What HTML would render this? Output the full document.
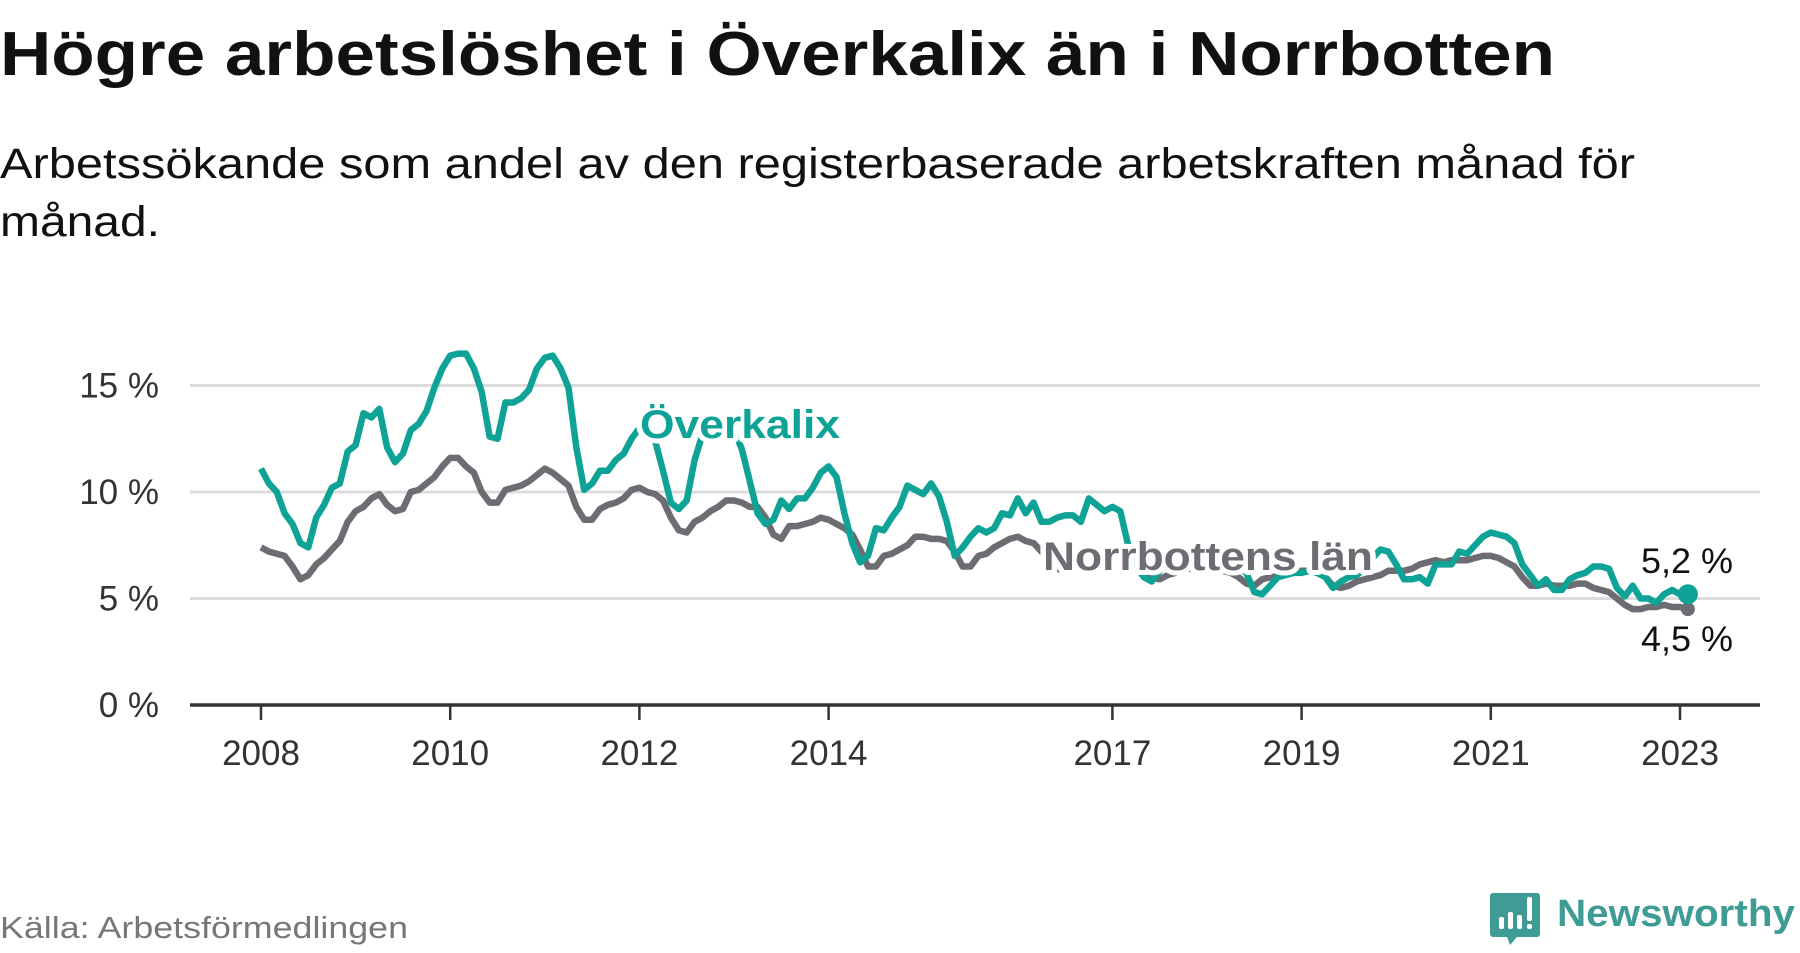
<!DOCTYPE html>
<html><head><meta charset="utf-8">
<style>
html,body{margin:0;padding:0;background:#fff;}
body{width:1800px;height:948px;overflow:hidden;font-family:"Liberation Sans",sans-serif;}
</style></head>
<body>
<svg id="chart" width="1800" height="948" viewBox="0 0 1800 948" xmlns="http://www.w3.org/2000/svg">
<text x="0" y="75" font-size="62" font-weight="bold" fill="#111" textLength="1555" lengthAdjust="spacingAndGlyphs">Högre arbetslöshet i Överkalix än i Norrbotten</text>
<text x="0" y="178" font-size="43" fill="#111" textLength="1635" lengthAdjust="spacingAndGlyphs">Arbetssökande som andel av den registerbaserade arbetskraften månad för</text>
<text x="0" y="236" font-size="43" fill="#111" textLength="160" lengthAdjust="spacingAndGlyphs">månad.</text>
<g id="grid"></g>
<g id="yticks"></g>
<g id="xaxis"></g>
<g id="series"></g>
<g id="labels"></g>
<text x="0" y="938" font-size="31" fill="#777" textLength="408" lengthAdjust="spacingAndGlyphs">Källa: Arbetsförmedlingen</text>
<g>
<path d="M1493 893 h44 a3 3 0 0 1 3 3 v38 a3 3 0 0 1 -3 3 h-20 l-7 8 l-3 -8 h-14 a3 3 0 0 1 -3 -3 v-38 a3 3 0 0 1 3 -3z" fill="#3f9c95"/>
<rect x="1499" y="917" width="5" height="12" rx="2" fill="#fff"/>
<rect x="1508" y="912" width="5" height="17" rx="2" fill="#fff"/>
<rect x="1517" y="915" width="5" height="14" rx="2" fill="#fff"/>
<rect x="1527" y="897" width="5" height="24" rx="2" fill="#fff"/>
<rect x="1527" y="924" width="5" height="5" rx="2" fill="#fff"/>
<text x="1557" y="926" font-size="38" font-weight="bold" fill="#3f9c95" textLength="238" lengthAdjust="spacingAndGlyphs">Newsworthy</text>
</g>
</svg>
<script>
const startYear = 2008;
const overkalix = [
11.1,10.4,10.0,9.0,8.5,7.6,7.4,8.8,9.4,10.2,10.4,11.9,
12.2,13.7,13.5,13.9,12.1,11.4,11.8,12.9,13.2,13.8,14.9,15.8,
16.4,16.5,16.5,15.8,14.7,12.6,12.5,14.2,14.2,14.4,14.8,15.8,
16.3,16.4,15.8,14.9,12.1,10.1,10.4,11.0,11.0,11.5,11.8,12.5,
13.0,13.0,12.4,11.0,9.5,9.2,9.6,11.5,12.7,13.0,13.2,13.0,
12.9,12.0,10.5,9.0,8.5,8.7,9.6,9.2,9.7,9.7,10.2,10.9,
11.2,10.7,9.0,7.6,6.7,7.0,8.3,8.2,8.8,9.3,10.3,10.1,
9.9,10.4,9.8,8.6,7.0,7.4,7.9,8.3,8.1,8.3,9.0,8.9,
9.7,9.0,9.5,8.6,8.6,8.8,8.9,8.9,8.6,9.7,9.4,9.1,
9.3,9.1,7.5,6.5,6.0,5.8,6.3,6.9,6.8,6.8,6.5,6.5,
6.6,6.5,6.5,6.8,6.5,6.2,5.3,5.2,5.6,6.0,6.1,6.2,
6.2,6.3,6.2,6.0,5.5,5.8,6.0,6.1,6.4,6.9,7.3,7.2,
6.6,5.9,5.9,6.0,5.7,6.6,6.6,6.6,7.2,7.1,7.5,7.9,
8.1,8.0,7.9,7.6,6.6,6.1,5.6,5.9,5.4,5.4,5.9,6.1,
6.2,6.5,6.5,6.4,5.5,5.1,5.6,5.0,5.0,4.8,5.2,5.4,
5.2,5.2];
const norrbotten = [
7.4,7.2,7.1,7.0,6.5,5.9,6.1,6.6,6.9,7.3,7.7,8.6,
9.1,9.3,9.7,9.9,9.4,9.1,9.2,10.0,10.1,10.4,10.7,11.2,
11.6,11.6,11.2,10.9,10.0,9.5,9.5,10.1,10.2,10.3,10.5,10.8,
11.1,10.9,10.6,10.3,9.3,8.7,8.7,9.2,9.4,9.5,9.7,10.1,
10.2,10.0,9.9,9.6,8.8,8.2,8.1,8.6,8.8,9.1,9.3,9.6,
9.6,9.5,9.3,9.3,8.8,8.0,7.8,8.4,8.4,8.5,8.6,8.8,
8.7,8.5,8.3,8.0,7.3,6.5,6.5,7.0,7.1,7.3,7.5,7.9,
7.9,7.8,7.8,7.7,7.2,6.5,6.5,7.0,7.1,7.4,7.6,7.8,
7.9,7.7,7.6,7.2,6.8,6.4,6.3,6.6,6.8,6.9,6.9,7.0,
7.0,6.9,6.9,6.8,6.4,6.0,5.9,6.1,6.2,6.4,6.4,6.5,
6.5,6.4,6.3,6.2,6.0,5.7,5.6,5.9,6.0,6.1,6.2,6.3,
6.3,6.3,6.2,6.0,5.6,5.5,5.6,5.8,5.9,6.0,6.1,6.3,
6.3,6.3,6.4,6.6,6.7,6.8,6.7,6.8,6.8,6.8,6.9,7.0,
7.0,6.9,6.7,6.5,6.0,5.6,5.6,5.7,5.6,5.6,5.6,5.7,
5.7,5.5,5.4,5.3,5.0,4.7,4.5,4.5,4.6,4.6,4.7,4.6,
4.6,4.5];
const yTicks = [0,5,10,15];
const yTickLabels = ["0 %","5 %","10 %","15 %"];
const xTicks = [2008,2010,2012,2014,2017,2019,2021,2023];

const NS="http://www.w3.org/2000/svg";
const X0=190, X1=1760;
function x(t){return 261 + (t-2008)*94.6;}
function xm(i){return x(startYear + i/12);}
function y(v){return 705 - v*21.3;}
function el(tag,attrs,parent){const e=document.createElementNS(NS,tag);for(const k in attrs)e.setAttribute(k,attrs[k]);parent.appendChild(e);return e;}
const grid=document.getElementById('grid'), yt=document.getElementById('yticks'), xa=document.getElementById('xaxis'), se=document.getElementById('series'), lb=document.getElementById('labels');
yTicks.forEach((v,i)=>{
  if(v>0){const l=el('line',{x1:X0,x2:X1,y1:y(v),y2:y(v),stroke:'#dcdcdc','stroke-width':3},grid);
  
  }
  const t=el('text',{x:159,y:y(v)+12,'font-size':35,fill:'#333','text-anchor':'end'},yt);
  
  
  t.textContent=yTickLabels[i];
});
const ax=el('line',{x1:X0,x2:X1,y1:705,y2:705,stroke:'#333','stroke-width':3.5},xa);


xTicks.forEach(t=>{
  const tk=el('line',{x1:x(t),x2:x(t),y1:705,y2:720,stroke:'#333','stroke-width':2.5},xa);
  
  
  const tl=el('text',{x:x(t),y:765,'font-size':35,fill:'#333','text-anchor':'middle'},xa);
  
  
  tl.textContent=t;
});
function path(arr){return arr.map((v,i)=>(i?'L':'M')+xm(i).toFixed(1)+' '+y(v).toFixed(1)).join(' ');}
const pn=el('path',{d:path(norrbotten),fill:'none',stroke:'#6d6c72','stroke-width':6.5,'stroke-linejoin':'round'},se);


const po=el('path',{d:path(overkalix),fill:'none',stroke:'#0ea396','stroke-width':6.5,'stroke-linejoin':'round'},se);


const nl=norrbotten.length-1, ol=overkalix.length-1;
const dn=el('circle',{cx:xm(nl),cy:y(norrbotten[nl]),r:7,fill:'#6d6c72'},se);


const dot=el('circle',{cx:xm(ol),cy:y(overkalix[ol]),r:10,fill:'#0ea396'},se);


function label(txt,xx,yy,size,color,bold,name,len){
  const t=el('text',{x:xx,y:yy,'font-size':size,fill:color,'font-weight':bold?'bold':'normal',stroke:'#fff','stroke-width':10,'paint-order':'stroke','stroke-linejoin':'round'},lb);
  if(len){t.setAttribute('textLength',len);t.setAttribute('lengthAdjust','spacingAndGlyphs');}
  
  
  t.textContent=txt;
}
label('Överkalix',640,438,40,'#0ea396',true,'overkalix-label',200);
label('Norrbottens län',1043,570,40,'#6d6c72',true,'norrbotten-label',330);
label(String(overkalix[ol]).replace('.',',')+' %',1641,573,35,'#111',false,'overkalix-end-value',92);
label(String(norrbotten[nl]).replace('.',',')+' %',1641,651,35,'#111',false,'norrbotten-end-value',92);
</script>
</body></html>
